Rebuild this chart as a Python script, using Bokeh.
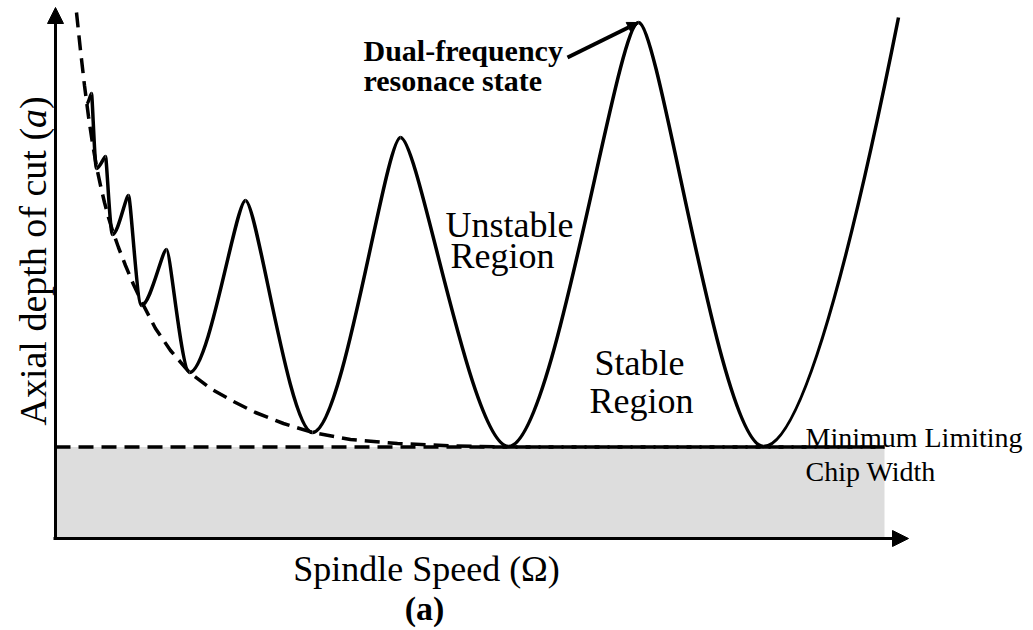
import numpy as np
from bokeh.plotting import figure
from bokeh.models import Range1d, Arrow, NormalHead
from bokeh.core.properties import value
from bokeh.embed import file_html
from bokeh.resources import INLINE

# ---- data (arbitrary units: spindle speed, axial depth of cut) ----
# stability lobe boundary: start point, alternating peaks / troughs, open end
curve_start_speed, curve_start_depth = 31, 434
curve_end_speed, curve_end_depth = 843, 521
peak_speed = [36, 50, 73, 111, 190, 345, 583]
peak_depth = [445, 382, 343, 289, 338, 401, 516]
trough_speed = [41, 57, 86, 134, 257, 453, 708]
trough_depth = [370, 304, 233, 166, 106, 92, 92]

# envelope of the lobe minima
envelope_speed = [21, 25, 29, 33, 37, 41, 45, 49, 53, 57, 63, 70, 78, 86,
                  100, 115, 134, 155, 178, 200, 228, 257, 295, 342, 398, 453, 829]
envelope_depth = [526, 488, 453, 422, 395, 372, 353, 336, 321, 308, 291, 273, 254, 237,
                  210, 188, 166, 150, 137, 126, 115, 106, 99, 95, 92.5, 91.5, 91.5]

# minimum limiting chip width and extent of the shaded region
a_lim = 91.5
speed_max = 829
axis_x_end = 853
axis_y_end = 531

# ---- figure ----
p = figure(width=1033, height=630, x_range=Range1d(-55, 978), y_range=Range1d(-92, 538),
           output_backend="svg", toolbar_location=None, min_border=0,
           outline_line_color=None, background_fill_color="white")
p.axis.visible = False
p.grid.visible = False

# shaded region below the minimum limiting chip width
p.quad(left=[0], right=[speed_max], bottom=[0], top=[a_lim],
       fill_color="#dddddd", line_color=None)
p.line([0, speed_max], [a_lim, a_lim], line_color="black", line_width=3.5, line_dash="15 8")

# envelope curve
p.line(envelope_speed, envelope_depth, line_color="black", line_width=3.5, line_dash="15 8")

# lobes as cubic Bezier segments between successive extrema
nodes_x = [curve_start_speed]
nodes_y = [curve_start_depth]
for ps, pd, ts, td in zip(peak_speed, peak_depth, trough_speed, trough_depth):
    nodes_x += [ps, ts]
    nodes_y += [pd, td]
nodes_x.append(curve_end_speed)
nodes_y.append(curve_end_depth)
nodes_x = np.array(nodes_x, float)
nodes_y = np.array(nodes_y, float)

k_base, k_tip = 0.35, 0.17
x0, y0 = nodes_x[:-1], nodes_y[:-1]
x1, y1 = nodes_x[1:], nodes_y[1:]
dx = x1 - x0
rising = y1 > y0
cx0 = np.where(rising, x0 + k_base * dx, x0 + k_tip * dx)
cx1 = np.where(rising, x1 - k_tip * dx, x1 - k_base * dx)
cy0 = y0.copy()
cy1 = y1.copy()
# the last branch leaves the chart while still climbing
cx1[-1] = x1[-1] - 0.19 * dx[-1]
cy1[-1] = y1[-1] - 0.3 * (y1[-1] - y0[-1])

p.bezier(x0=x0, y0=y0, x1=x1, y1=y1, cx0=cx0, cy0=cy0, cx1=cx1, cy1=cy1,
         line_color="black", line_width=3.5)

# axes with arrow heads
p.add_layout(Arrow(end=NormalHead(size=16, fill_color="black", line_color="black"),
                   x_start=0, y_start=0, x_end=0, y_end=axis_y_end,
                   line_color="black", line_width=3))
p.add_layout(Arrow(end=NormalHead(size=16, fill_color="black", line_color="black"),
                   x_start=-2, y_start=0, x_end=axis_x_end, y_end=0,
                   line_color="black", line_width=3))

# annotation arrow to the tallest lobe
p.add_layout(Arrow(end=NormalHead(size=11, fill_color="black", line_color="black"),
                   x_start=512, y_start=481, x_end=peak_speed[-1], y_end=peak_depth[-1],
                   line_color="black", line_width=4))

serif = value("Liberation Serif")

def label(x, y, txt, size, align="left", style="normal", angle=0.0):
    p.text(x=[x], y=[y], text=[txt], text_font=serif, text_font_size=value(size),
           text_font_style=style, text_align=align, text_baseline="alphabetic",
           text_color="black", angle=angle)

label(308, 488, "Dual-frequency", "30px", style="bold")
label(308, 458, "resonace state", "30px", style="bold")
label(454, 314, "Unstable", "36px", align="center")
label(447, 283, "Region", "36px", align="center")
label(584, 176, "Stable", "36px", align="center")
label(586, 138, "Region", "36px", align="center")
label(750, 101, "Minimum Limiting", "28px")
label(750, 67, "Chip Width", "28px")
label(371, -30, "Spindle Speed (\u03a9)", "36px", align="center")
label(369, -70, "(a)", "34px", align="center", style="bold")

# vertical axis title with an italic symbol
label(-23, 113, "Axial depth of cut (", "38px", angle=np.pi / 2)
label(-23, 410.6, "a", "38px", style="italic", angle=np.pi / 2)
label(-23, 429.6, ")", "38px", angle=np.pi / 2)

open("out.html", "w").write(file_html(p, INLINE))
